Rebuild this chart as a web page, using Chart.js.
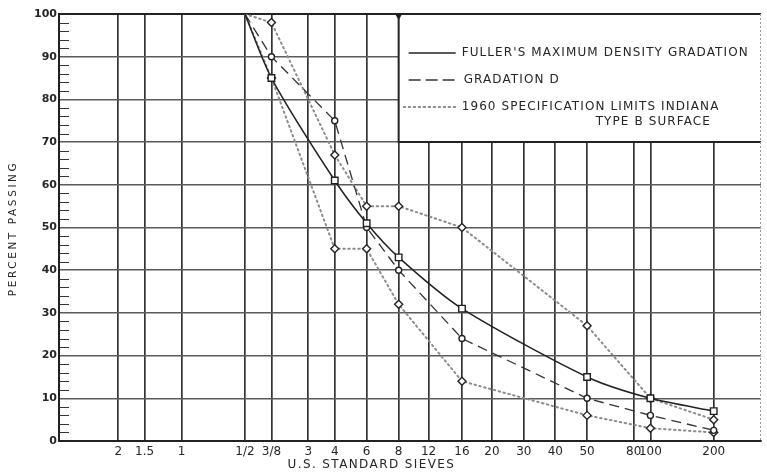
<!DOCTYPE html>
<html>
<head>
<meta charset="utf-8">
<script src="https://cdn.jsdelivr.net/npm/chart.js@4.4.1/dist/chart.umd.min.js"></script>
<style>
  html, body { margin: 0; padding: 0; background: #fff; }
</style>
</head>
<body>
<canvas id="chart" width="767" height="474"></canvas>
<script>
// Sieve designations along the bottom axis and their openings in millimetres
const sieveLabels   = ['2', '1.5', '1', '1/2', '3/8', '3', '4', '6', '8', '12', '16', '20', '30', '40', '50', '80', '100', '200'];
const sieveOpenings = [50.8, 38.1, 25.4, 12.7, 9.5, 6.35, 4.75, 3.35, 2.36, 1.7, 1.18, 0.85, 0.6, 0.425, 0.3, 0.18, 0.15, 0.075];

// Sieves at which the gradations are plotted
const plottedSieves = ['1/2', '3/8', '4', '6', '8', '16', '50', '100', '200'];

// Percent passing
const fullerMaxDensity = [100, 85, 61, 51, 43, 31, 15, 10, 7];
const gradationD       = [100, 90, 75, 50, 40, 24, 10, 6, 2.5];
const specUpperLimit   = [100, 98, 67, 55, 55, 50, 27, 10, 5];
const specLowerLimit   = [100, 85, 45, 45, 32, 14, 6, 3, 2];

const yTickValues = [0, 10, 20, 30, 40, 50, 60, 70, 80, 90, 100];

const legendLines = [
  "FULLER'S MAXIMUM DENSITY GRADATION",
  'GRADATION D',
  '1960 SPECIFICATION LIMITS INDIANA',
  'TYPE B SURFACE'
];

const INK = '#262626';
const FONT = '"DejaVu Sans", "Liberation Sans", sans-serif';

function points(values) {
  return plottedSieves.map((s, i) => ({ x: sieveOpenings[sieveLabels.indexOf(s)], y: values[i] }));
}
const hideFirst = (r) => plottedSieves.map((_, i) => (i === 0 ? 0 : r));

// Extras drawn on the grid: minor ticks, legend panel, frame details, axis titles
const gradingSheet = {
  id: 'gradingSheet',
  beforeDatasetsDraw(chart) {
    const { ctx, chartArea: a, scales: { x, y } } = chart;
    ctx.save();

    // minor ticks every 2 percent on the left axis
    ctx.strokeStyle = '#333';
    ctx.lineWidth = 1;
    for (let v = 2; v < 100; v += 2) {
      if (v % 10 === 0) continue;
      const py = Math.round(y.getPixelForValue(v)) + 0.5;
      ctx.beginPath();
      ctx.moveTo(a.left + 1, py);
      ctx.lineTo(a.left + 10, py);
      ctx.stroke();
    }

    // legend panel, bounded by the No. 8 line and the 70 percent line
    const bx = x.getPixelForValue(sieveOpenings[sieveLabels.indexOf('8')]);
    const by = y.getPixelForValue(70);
    ctx.fillStyle = '#fff';
    ctx.fillRect(bx, a.top, a.right - bx, by - a.top);
    ctx.strokeStyle = '#222';
    ctx.lineWidth = 2;
    ctx.beginPath();
    ctx.moveTo(bx, a.top);
    ctx.lineTo(bx, by);
    ctx.lineTo(a.right, by);
    ctx.stroke();
    ctx.beginPath();
    ctx.moveTo(a.left, a.top);
    ctx.lineTo(a.right, a.top);
    ctx.stroke();

    // small marker at the head of the No. 8 line
    ctx.fillStyle = '#222';
    ctx.beginPath();
    ctx.moveTo(bx - 3.5, a.top);
    ctx.lineTo(bx + 3.5, a.top);
    ctx.lineTo(bx, a.top + 6);
    ctx.closePath();
    ctx.fill();

    // right frame edge
    ctx.strokeStyle = '#999';
    ctx.lineWidth = 1;
    ctx.setLineDash([2, 2]);
    ctx.beginPath();
    ctx.moveTo(a.right - 0.5, a.top);
    ctx.lineTo(a.right - 0.5, a.bottom);
    ctx.stroke();
    ctx.setLineDash([]);

    // legend samples
    const ds = chart.data.datasets;
    const rows = [a.top + 39, a.top + 66, a.top + 93];
    const styles = [ds[0], ds[1], ds[2]];
    styles.forEach((d, i) => {
      ctx.strokeStyle = d.borderColor;
      ctx.lineWidth = d.borderWidth;
      ctx.lineCap = d.borderCapStyle || 'butt';
      ctx.setLineDash(i === 1 ? [12, 5] : (d.borderDash || []));
      ctx.beginPath();
      ctx.moveTo(bx + (i === 2 ? 5 : 10), rows[i]);
      ctx.lineTo(bx + 57, rows[i]);
      ctx.stroke();
    });
    ctx.setLineDash([]);
    ctx.lineCap = 'butt';

    // legend text
    ctx.fillStyle = INK;
    ctx.font = '12px ' + FONT;
    ctx.letterSpacing = '1.1px';
    ctx.textBaseline = 'middle';
    ctx.textAlign = 'left';
    ctx.fillText(legendLines[0], bx + 63, rows[0]);
    ctx.fillText(legendLines[1], bx + 65, rows[1]);
    ctx.fillText(legendLines[2], bx + 63, rows[2]);
    ctx.fillText(legendLines[3], bx + 197, rows[2] + 15);
    ctx.restore();
  },
  afterDraw(chart) {
    const { ctx, chartArea: a } = chart;
    ctx.save();
    ctx.fillStyle = INK;
    ctx.textBaseline = 'middle';
    ctx.textAlign = 'center';

    ctx.font = '12px ' + FONT;
    ctx.letterSpacing = '1.4px';
    ctx.fillText('U.S. STANDARD SIEVES', a.left + (a.right - a.left) * 0.445, 465);

    ctx.font = '10.5px ' + FONT;
    ctx.letterSpacing = '2.6px';
    ctx.translate(13, (a.top + a.bottom) / 2 + 1);
    ctx.rotate(-Math.PI / 2);
    ctx.fillText('PERCENT PASSING', 0, 0);
    ctx.restore();
  }
};

const markerStyle = { pointBackgroundColor: '#fff', pointBorderColor: '#222', pointBorderWidth: 1.4 };

new Chart(document.getElementById('chart'), {
  type: 'scatter',
  data: {
    datasets: [
      {
        label: legendLines[0],
        data: points(fullerMaxDensity),
        showLine: true,
        borderColor: '#222',
        borderWidth: 1.5,
        tension: 0.25,
        pointStyle: 'rect',
        pointRadius: hideFirst(4.6),
        ...markerStyle
      },
      {
        label: legendLines[1],
        data: points(gradationD),
        showLine: true,
        borderColor: '#333',
        borderWidth: 1.3,
        borderDash: [10, 6],
        tension: 0,
        pointStyle: 'circle',
        pointRadius: hideFirst(3),
        ...markerStyle
      },
      {
        label: legendLines[2] + ' ' + legendLines[3],
        data: points(specUpperLimit),
        showLine: true,
        borderColor: '#8c8c8c',
        borderWidth: 2,
        borderDash: [1.5, 3.5],
        borderCapStyle: 'round',
        tension: 0,
        pointStyle: 'rectRot',
        pointRadius: hideFirst(4),
        ...markerStyle
      },
      {
        label: legendLines[2] + ' ' + legendLines[3],
        data: points(specLowerLimit),
        showLine: true,
        borderColor: '#8c8c8c',
        borderWidth: 2,
        borderDash: [1.5, 3.5],
        borderCapStyle: 'round',
        tension: 0,
        pointStyle: 'rectRot',
        pointRadius: hideFirst(4),
        ...markerStyle
      }
    ]
  },
  options: {
    responsive: false,
    animation: false,
    devicePixelRatio: 1,
    layout: { padding: { top: 14, right: 1, left: 0, bottom: 0 } },
    plugins: { legend: { display: false }, tooltip: { enabled: false } },
    scales: {
      x: {
        type: 'logarithmic',
        reverse: true,
        bounds: 'data',
        min: 0.0447,
        max: 97.2,
        afterBuildTicks: (scale) => { scale.ticks = sieveOpenings.map(v => ({ value: v })); },
        afterFit: (scale) => { scale.height = 33; },
        ticks: {
          autoSkip: false,
          maxRotation: 0,
          minRotation: 0,
          padding: 4,
          color: INK,
          font: { family: FONT, size: 12 },
          callback: (value) => sieveLabels[sieveOpenings.indexOf(value)]
        },
        grid: { color: '#333', lineWidth: 1.7, drawTicks: false },
        border: { display: true, color: '#222', width: 2 }
      },
      y: {
        type: 'linear',
        min: 0,
        max: 100,
        afterBuildTicks: (scale) => { scale.ticks = yTickValues.map(v => ({ value: v })); },
        afterFit: (scale) => { scale.width = 59; },
        ticks: {
          padding: 2,
          color: INK,
          font: { family: FONT, size: 11, weight: 'bold' }
        },
        grid: {
          drawTicks: false,
          color: (c) => (c.tick && c.tick.value === 100 ? '#222' : '#5a5a5a'),
          lineWidth: (c) => (c.tick && c.tick.value === 100 ? 2 : 1.5)
        },
        border: { display: true, color: '#222', width: 2 }
      }
    }
  },
  plugins: [gradingSheet]
});
</script>
</body>
</html>
